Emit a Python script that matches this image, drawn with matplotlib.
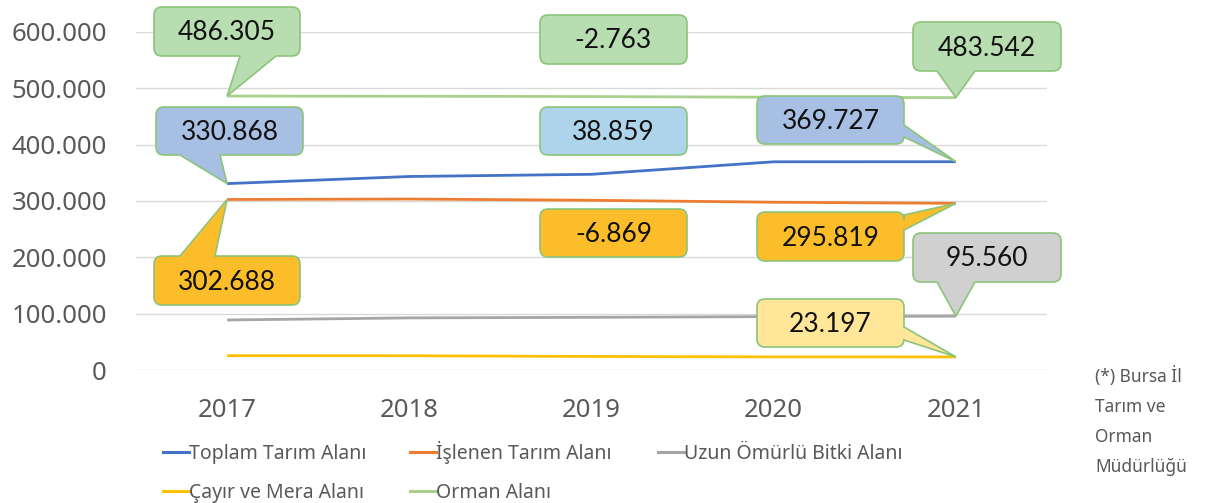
import numpy as np
import matplotlib.pyplot as plt
from matplotlib.path import Path
from matplotlib.patches import PathPatch
from matplotlib.lines import Line2D
from matplotlib.transforms import IdentityTransform
from matplotlib.ticker import FuncFormatter

W, H = 1209, 503

years = ['2017', '2018', '2019', '2020', '2021']
toplam = [330868, 343500, 347400, 369600, 369727]
islenen = [302688, 303500, 301300, 297800, 295819]
uzun = [88800, 92500, 93500, 94800, 95560]
cayir = [25400, 25300, 24000, 23300, 23197]
orman = [486305, 486000, 485400, 484200, 483542]

names = ['Toplam Tarım Alanı', 'İşlenen Tarım Alanı', 'Uzun Ömürlü Bitki Alanı',
         'Çayır ve Mera Alanı', 'Orman Alanı']
colors = ['#4472C4', '#ED7D31', '#A5A5A5', '#FFC000', '#A9D18E']
series = [toplam, islenen, uzun, cayir, orman]


def fmt(v):
    return '{:,.0f}'.format(v).replace(',', '.')


fig = plt.figure(figsize=(W / 100, H / 100), dpi=100)
ax = fig.add_axes([136 / W, (H - 370) / H, (1047 - 136) / W, (370 - 32) / H])

x = np.arange(len(years))
for s, c, n in zip(series, colors, names):
    ax.plot(x, s, color=c, lw=2.0, label=n, solid_capstyle='butt', zorder=3)

ax.set_xlim(-0.5, 4.5)
ax.set_ylim(0, 600000)
ax.set_yticks(np.arange(0, 600001, 100000))
ax.yaxis.set_major_formatter(FuncFormatter(lambda v, p: fmt(v)))
ax.set_xticks(x)
ax.set_xticklabels(years)
ax.grid(axis='y', color='#D9D9D9', lw=1)
ax.set_axisbelow(True)
for sp in ax.spines.values():
    sp.set_visible(False)
ax.tick_params(length=0, labelsize=18.5, labelcolor='#595959')
ax.tick_params(axis='y', pad=21)
ax.tick_params(axis='x', pad=20)
for t in ax.get_xticklabels() + ax.get_yticklabels():
    t.set_fontfamily('Noto Sans')


def bubble(box, fill, text, side=None, base=None, tip=None):
    # box in image pixels (x0, y0, x1, y1), y down; tip in display coords
    x0, y0, x1, y1 = box
    r = 8
    pts = []
    codes = []

    def line(p):
        pts.append(p)
        codes.append(Path.LINETO)

    def corner(c, e):
        pts.extend([c, e])
        codes.extend([Path.CURVE3, Path.CURVE3])

    if tip is not None:
        tp = (tip[0], H - tip[1])
    pts.append((x0 + r, y0))
    codes.append(Path.MOVETO)
    if side == 'top':
        line((base[0], y0)); line(tp); line((base[1], y0))
    line((x1 - r, y0))
    corner((x1, y0), (x1, y0 + r))
    if side == 'right':
        line((x1, base[0])); line(tp); line((x1, base[1]))
    line((x1, y1 - r))
    corner((x1, y1), (x1 - r, y1))
    if side == 'bottom':
        line((base[1], y1)); line(tp); line((base[0], y1))
    line((x0 + r, y1))
    corner((x0, y1), (x0, y1 - r))
    if side == 'left':
        line((x0, base[1])); line(tp); line((x0, base[0]))
    line((x0, y0 + r))
    corner((x0, y0), (x0 + r, y0))
    pts.append((x0 + r, y0))
    codes.append(Path.CLOSEPOLY)
    disp = [(px, H - py) for px, py in pts]
    patch = PathPatch(Path(disp, codes), facecolor=fill, edgecolor='#8CC47A',
                      lw=1.2, transform=IdentityTransform(), zorder=5)
    fig.add_artist(patch)
    fig.text((x0 + x1) / 2 / W, 1 - ((y0 + y1) / 2 + 9) / H, text, ha='center',
             va='baseline', fontsize=19, family='Lato', color='#111111', zorder=6)


def pt(i, s):
    return ax.transData.transform((i, s[i]))


green, blue, lblue = '#B8DDB1', '#A7BFE2', '#AED4EB'
orange, gray, yellow = '#FBBE2A', '#CFD0CF', '#FFE699'

bubble((154, 7, 300, 56), green, fmt(orman[0]), 'bottom', (240, 276), pt(0, orman))
bubble((540, 15, 687, 64), green, fmt(orman[4] - orman[0]))
bubble((913, 22, 1061, 71), green, fmt(orman[4]), 'bottom', (937, 975), pt(4, orman))
bubble((156, 107, 303, 155), blue, fmt(toplam[0]), 'bottom', (180, 220), pt(0, toplam))
bubble((540, 107, 687, 155), lblue, fmt(toplam[4] - toplam[0]))
bubble((757, 96, 904, 144), blue, fmt(toplam[4]), 'right', (125, 137), pt(4, toplam))
bubble((154, 256, 300, 305), orange, fmt(islenen[0]), 'top', (180, 215), pt(0, islenen))
bubble((540, 209, 687, 257), orange, fmt(islenen[4] - islenen[0]))
bubble((757, 212, 904, 261), orange, fmt(islenen[4]), 'right', (215, 230), pt(4, islenen))
bubble((913, 233, 1061, 282), gray, fmt(uzun[4]), 'bottom', (937, 975), pt(4, uzun))
bubble((757, 299, 904, 347), yellow, fmt(cayir[4]), 'right', (327, 340), pt(4, cayir))

# legend drawn row-wise
leg_pos = [(163, 452), (410, 452), (658, 452), (163, 491), (410, 491)]
for (lx, ly), c, n in zip(leg_pos, colors, names):
    fig.add_artist(Line2D([lx / W, (lx + 26) / W], [1 - ly / H, 1 - ly / H],
                          color=c, lw=2.2, transform=fig.transFigure))
    fig.text((lx + 26) / W, 1 - (ly + 7) / H, n, ha='left', va='baseline',
             fontsize=14, family='Noto Sans', color='#595959')

fig.text(1095 / W, 1 - 366 / H, '(*) Bursa İl\nTarım ve\nOrman\nMüdürlüğü', ha='left', va='top',
         fontsize=12.5, family='Noto Sans', color='#595959', linespacing=1.85)

fig.savefig('out.png', dpi=100)
